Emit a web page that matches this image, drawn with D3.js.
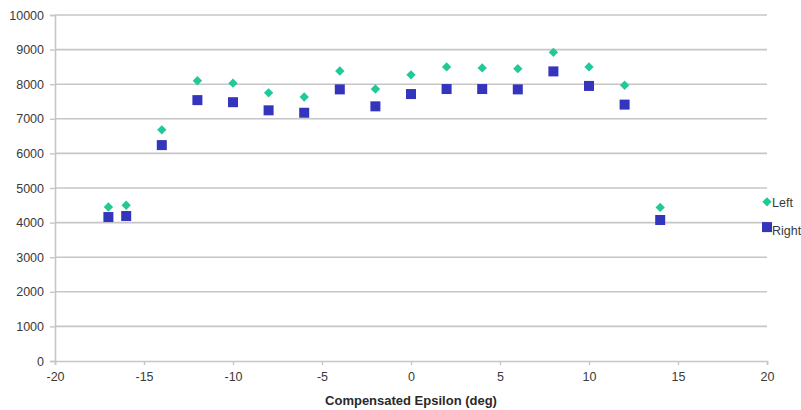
<!DOCTYPE html>
<html>
<head>
<meta charset="utf-8">
<script src="https://cdn.jsdelivr.net/npm/d3@7/dist/d3.min.js"></script>
<style>
  html, body { margin: 0; padding: 0; background: #fff; }
  svg { display: block; }
  text { font-family: "Liberation Sans", Arial, sans-serif; }
</style>
</head>
<body>
<svg id="chart" width="801" height="410"></svg>
<script>
// Compensated epsilon angles (deg)
const epsilon = [-17, -16, -14, -12, -10, -8, -6, -4, -2, 0, 2, 4, 6, 8, 10, 12, 14, 20];
// Left and right readings at each angle
const leftValues  = [4450, 4500, 6680, 8100, 8030, 7750, 7630, 8380, 7860, 8270, 8500, 8470, 8450, 8920, 8500, 7970, 4440, 4600];
const rightValues = [4160, 4190, 6240, 7540, 7480, 7245, 7175, 7850, 7360, 7715, 7860, 7860, 7850, 8370, 7950, 7410, 4075, 3870];
const seriesNames = ["Left", "Right"];
const xTicks = [-20, -15, -10, -5, 0, 5, 10, 15, 20];
const yTicks = [0, 1000, 2000, 3000, 4000, 5000, 6000, 7000, 8000, 9000, 10000];
const xTitle = "Compensated Epsilon (deg)";

const svg = d3.select("#chart");
const x = d3.scaleLinear().domain([-20, 20]).range([55, 767]);
const y = d3.scaleLinear().domain([0, 10000]).range([361, 15]);

const gridColor = "#c6c6c6";
const textColor = "#3a3a3a";
const tickFont = 12.5;

// Horizontal gridlines
svg.append("g")
  .selectAll("line")
  .data(yTicks.filter(v => v > 0))
  .join("line")
  .attr("x1", x(-20)).attr("x2", x(20))
  .attr("y1", d => y(d)).attr("y2", d => y(d))
  .attr("stroke", gridColor).attr("stroke-width", 1.6);

// Y axis
const yAxis = svg.append("g")
  .attr("transform", `translate(${x(-20)},0)`)
  .call(d3.axisLeft(y).tickValues(yTicks).tickFormat(d => String(d)).tickSize(5).tickPadding(6));
yAxis.select(".domain").attr("stroke", gridColor).attr("stroke-width", 1.6);
yAxis.selectAll(".tick line").attr("stroke", gridColor).attr("stroke-width", 1.4);
yAxis.selectAll("text").attr("fill", textColor).attr("font-size", tickFont)
  .attr("font-family", "'Liberation Sans', Arial, sans-serif");

// X axis (plain hyphen for negative labels)
const xAxis = svg.append("g")
  .attr("transform", `translate(0,${y(0)})`)
  .call(d3.axisBottom(x).tickValues(xTicks).tickFormat(d => String(d)).tickSize(4).tickPadding(7));
xAxis.select(".domain").attr("stroke", gridColor).attr("stroke-width", 1.6);
xAxis.selectAll(".tick line").attr("stroke", gridColor).attr("stroke-width", 1.4);
xAxis.selectAll("text").attr("fill", textColor).attr("font-size", tickFont)
  .attr("font-family", "'Liberation Sans', Arial, sans-serif");

// Axis title
svg.append("text")
  .attr("x", x(0)).attr("y", 405)
  .attr("text-anchor", "middle")
  .attr("font-size", 13).attr("font-weight", "bold")
  .attr("fill", "#2a2a2a")
  .text(xTitle);

const leftColor = "#22c998";
const rightColor = "#3434bc";

// Right series: squares
svg.append("g")
  .selectAll("rect")
  .data(epsilon.map((e, i) => [e, rightValues[i]]))
  .join("rect")
  .attr("x", d => x(d[0]) - 5).attr("y", d => y(d[1]) - 5)
  .attr("width", 10).attr("height", 10)
  .attr("fill", rightColor);

// Left series: diamonds
const diamond = d3.symbol().type(d3.symbolDiamond2).size(56);
svg.append("g")
  .selectAll("path")
  .data(epsilon.map((e, i) => [e, leftValues[i]]))
  .join("path")
  .attr("transform", d => `translate(${x(d[0])},${y(d[1])})`)
  .attr("d", diamond)
  .attr("fill", leftColor);

// Series name labels at the last point
const last = epsilon.length - 1;
svg.append("text")
  .attr("x", x(epsilon[last]) + 5).attr("y", y(leftValues[last]) + 5)
  .attr("font-size", tickFont).attr("fill", textColor)
  .text(seriesNames[0]);
svg.append("text")
  .attr("x", x(epsilon[last]) + 5).attr("y", y(rightValues[last]) + 8)
  .attr("font-size", tickFont).attr("fill", textColor)
  .text(seriesNames[1]);
</script>
</body>
</html>
